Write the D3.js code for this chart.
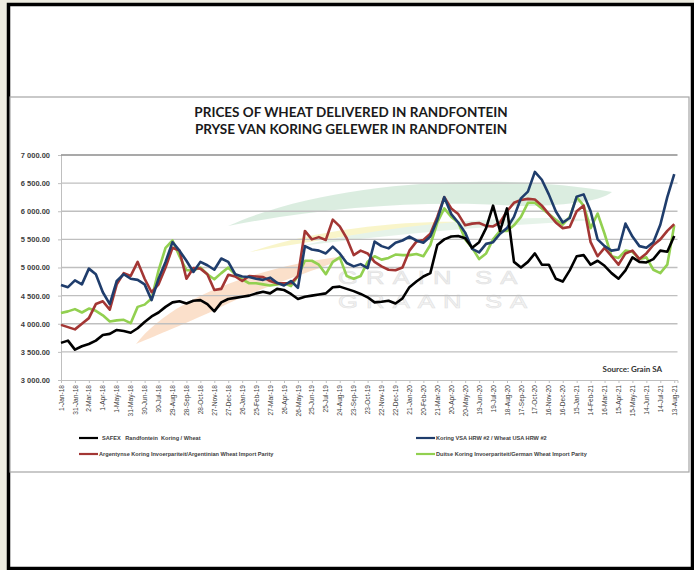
<!DOCTYPE html>
<html>
<head>
<meta charset="utf-8">
<script src="https://cdn.jsdelivr.net/npm/d3@7"></script>
<style>
	html, body { margin: 0; padding: 0; background: #eeece1; }
	svg { display: block; }
</style>
</head>
<body>
<div id="chart"></div>
<script>
// one point every 15 days from 1-Jan-18
const startDate = '2018-01-01';
const stepDays = 15;

const tickLabels = ['1-Jan-18', '31-Jan-18', '2-Mar-18', '1-Apr-18', '1-May-18', '31-May-18', '30-Jun-18', '30-Jul-18',
	'29-Aug-18', '28-Sep-18', '28-Oct-18', '27-Nov-18', '27-Dec-18', '26-Jan-19', '25-Feb-19', '27-Mar-19', '26-Apr-19',
	'26-May-19', '25-Jun-19', '25-Jul-19', '24-Aug-19', '23-Sep-19', '23-Oct-19', '22-Nov-19', '22-Dec-19', '21-Jan-20',
	'20-Feb-20', '21-Mar-20', '20-Apr-20', '20-May-20', '19-Jun-20', '19-Jul-20', '18-Aug-20', '17-Sep-20', '17-Oct-20',
	'16-Nov-20', '16-Dec-20', '15-Jan-21', '14-Feb-21', '16-Mar-21', '15-Apr-21', '15-May-21', '14-Jun-21', '14-Jul-21',
	'13-Aug-21'];

const yTicks = [3000, 3500, 4000, 4500, 5000, 5500, 6000, 6500, 7000];

const safex = [3660, 3700, 3540, 3600, 3640, 3700, 3800, 3820, 3890, 3870, 3840, 3920, 4030, 4130, 4200, 4300,
	4380, 4400, 4360, 4410, 4420, 4350, 4220, 4380, 4440, 4460, 4480, 4500, 4540, 4570, 4540, 4620,
	4600, 4530, 4440, 4480, 4500, 4520, 4540, 4650, 4660, 4620, 4580, 4530, 4470, 4380, 4390, 4410,
	4360, 4450, 4650, 4750, 4840, 4900, 5400, 5500, 5550, 5560, 5520, 5350, 5450, 5700, 6100, 5650,
	6050, 5100, 5000, 5100, 5250, 5050, 5050, 4800, 4750, 4950, 5200, 5220, 5050, 5120, 5030, 4900,
	4800, 4950, 5180, 5100, 5090, 5150, 5300, 5280, 5560];

const usaHrw = [4690, 4650, 4770, 4700, 4980, 4880, 4560, 4350, 4760, 4880, 4800, 4780, 4700, 4420, 4800, 5100,
	5450, 5300, 5120, 4920, 5100, 5040, 4960, 5160, 5100, 4880, 4840, 4830, 4800, 4780, 4820, 4730,
	4680, 4760, 4640, 5380, 5320, 5300, 5250, 5370, 5250, 5080, 5020, 5060, 4990, 5460, 5380, 5340,
	5440, 5480, 5550, 5480, 5440, 5550, 5850, 6250, 5950, 5800, 5620, 5330, 5270, 5420, 5450, 5600,
	5700, 5900, 6230, 6350, 6700, 6560, 6300, 6000, 5800, 5880, 6260, 6300, 6000, 5500, 5380, 5300,
	5320, 5780, 5550, 5380, 5350, 5450, 5760, 6250, 6660];

const argentina = [3980, 3940, 3900, 4000, 4100, 4350, 4400, 4250, 4700, 4900, 4850, 5100, 4800, 4560, 4700, 5000,
	5350, 5300, 4800, 4990, 4980, 4880, 4600, 4620, 4870, 4840, 4760, 4850, 4840, 4830, 4760, 4720,
	4720, 4720, 4850, 5650, 5500, 5540, 5490, 5850, 5730, 5520, 5220, 5300, 5250, 5100, 5020, 4960,
	4950, 5000, 5300, 5460, 5490, 5600, 5900, 6250, 6050, 5950, 5750, 5780, 5790, 5740, 5730, 5800,
	6000, 6150, 6200, 6220, 6210, 6100, 5950, 5800, 5700, 5720, 6000, 6100, 5450, 5200, 5350, 5200,
	5050, 5250, 5300, 5150, 5250, 5400, 5500, 5650, 5770];

const germany = [4190, 4220, 4260, 4200, 4270, 4230, 4150, 4040, 4060, 4070, 4010, 4300, 4340, 4450, 4950, 5350,
	5480, 5200, 4950, 4950, 5000, 4880, 4790, 4900, 5000, 4880, 4790, 4720, 4720, 4700, 4680, 4700,
	4720, 4670, 4850, 5120, 5120, 5050, 4880, 5100, 5180, 4850, 4800, 4850, 5100, 5200, 5140, 5170,
	5230, 5220, 5220, 5240, 5200, 5400, 5800, 6050, 5900, 5800, 5500, 5350, 5150, 5250, 5500, 5650,
	5650, 5750, 5900, 6150, 6150, 6050, 5950, 5850, 5760, 5900, 6250, 6100, 5700, 5960, 5600, 5200,
	5170, 5300, 5280, 5150, 5180, 4960, 4900, 5050, 5750];

const seriesNames = ['SAFEX   Randfontein  Koring / Wheat', 'Koring VSA HRW #2 / Wheat USA HRW #2',
	'Argentynse Koring Invoerpariteit/Argentinian Wheat Import Parity', 'Duitse Koring Invoerpariteit/German Wheat Import Parity'];
const seriesColors = ['#000000', '#1f3d6c', '#a33634', '#92d050'];

const titleLines = ['PRICES OF WHEAT DELIVERED IN RANDFONTEIN', 'PRYSE VAN KORING GELEWER IN RANDFONTEIN'];

const W = 694, H = 570;
const plot = { left: 61, right: 677.5, top: 155, bottom: 380 };

const parseTick = d3.utcParse('%d-%b-%y');
const start = d3.utcParse('%Y-%m-%d')(startDate);

const drawFrame = function (svg) {
	svg.append('rect')
		.attr('width', W).attr('height', H)
		.attr('fill', '#eeece1');
	svg.append('rect')
		.attr('x', 8.5).attr('y', 4.5)
		.attr('width', 684).attr('height', 564)
		.attr('fill', '#fff')
		.attr('stroke', '#000')
		.attr('stroke-width', 3.5);
	svg.append('rect')
		.attr('x', 10).attr('y', 97)
		.attr('width', 679).attr('height', 375)
		.attr('fill', '#fff')
		.attr('stroke', '#a6a6a6')
		.attr('stroke-width', 1.2);
}

// faint Grain SA logo behind the lines
const drawWatermark = function (svg) {
	let g = svg.append('g').attr('opacity', 0.6);
	g.append('path')
		.attr('d', 'M228,226 C330,180 500,172 612,192 C600,202 560,206 520,206 C430,200 330,206 228,226 Z')
		.attr('fill', '#c4e2cd');
	g.append('path')
		.attr('d', 'M250,252 C320,228 410,220 470,222 C400,228 330,238 250,252 Z')
		.attr('fill', '#f6f0a8');
	g.append('path')
		.attr('d', 'M300,246 C400,222 520,214 600,220 C520,224 410,232 300,246 Z')
		.attr('fill', '#d6ecdc');
	g.append('path')
		.attr('d', 'M136,344 C170,300 250,268 345,256 C345,262 270,282 215,310 C180,326 150,338 136,344 Z')
		.attr('fill', '#f9cca8');
	let words = ['GRAIN SA', 'GRAAN SA'];
	g.selectAll('text.wm')
		.data(words)
		.enter().append('text')
		.attr('class', 'wm')
		.attr('transform', (d, i) => `translate(338,${284 + i * 24}) scale(1.35,1)`)
		.attr('font-family', 'Liberation Sans, Arial, sans-serif')
		.attr('font-size', 19)
		.attr('letter-spacing', 6)
		.attr('fill', (d, i) => i ? '#ececec' : '#e4e4e4')
		.attr('stroke', '#cfcfcf')
		.attr('stroke-width', 0.6)
		.text(d => d);
}

const drawAxes = function (svg, xScale, yScale, tickDates) {
	const locale = d3.formatLocale({ decimal: '.', thousands: ' ', grouping: [3], currency: ['', ''] });
	const fmt = locale.format(',.2f');

	let yAxis = svg.append('g')
		.attr('class', 'axisY')
		.attr('transform', `translate(${plot.left},0)`)
		.call(d3.axisLeft(yScale).tickValues(yTicks).tickSize(3).tickFormat(fmt));
	yAxis.select('.domain').attr('stroke', '#bfbfbf');
	yAxis.selectAll('.tick line').attr('stroke', '#bfbfbf');
	yAxis.selectAll('.tick text')
		.attr('x', -11)
		.attr('fill', '#404040')
		.style('font-family', 'Liberation Sans, Arial, sans-serif')
		.style('font-size', '7.5px')
		.style('font-weight', 'bold');

	// grid lines
	svg.append('g').selectAll('line')
		.data(yTicks.filter(d => d > 3000))
		.enter().append('line')
		.attr('x1', plot.left).attr('x2', plot.right)
		.attr('y1', d => yScale(d)).attr('y2', d => yScale(d))
		.attr('stroke', d => d === 7000 ? '#8c8c8c' : '#bfbfbf')
		.attr('stroke-width', 1.3);

	let xAxis = svg.append('g')
		.attr('class', 'axisX')
		.attr('transform', `translate(0,${plot.bottom})`)
		.call(d3.axisBottom(xScale).tickValues(tickDates).tickSize(3).tickFormat((d, i) => tickLabels[i]));
	xAxis.select('.domain').attr('stroke', '#bfbfbf');
	xAxis.selectAll('.tick line').attr('stroke', '#bfbfbf');
	xAxis.selectAll('.tick text')
		.attr('transform', 'rotate(-90)')
		.attr('x', -5)
		.attr('y', 0)
		.attr('dy', '0.32em')
		.attr('text-anchor', 'end')
		.attr('fill', '#404040')
		.style('font-family', 'Liberation Sans, Arial, sans-serif')
		.style('font-size', '6.6px');
}

const drawLines = function (svg, xScale, yScale, dates) {
	let line = d3.line()
		.x((d, i) => xScale(dates[i]))
		.y(d => yScale(d));
	// green first, black last on top
	let order = [3, 2, 1, 0];
	let all = [safex, usaHrw, argentina, germany];
	svg.append('g').selectAll('path')
		.data(order)
		.enter().append('path')
		.attr('d', k => line(all[k]))
		.attr('fill', 'none')
		.attr('stroke', k => seriesColors[k])
		.attr('stroke-width', 2.6)
		.attr('stroke-linejoin', 'round');
}

const drawLegend = function (svg) {
	let pos = [[79, 438], [416, 438], [79, 454], [416, 454]];
	let legend = svg.append('g').selectAll('g')
		.data(seriesNames)
		.enter().append('g')
		.attr('transform', (d, i) => `translate(${pos[i][0]},${pos[i][1]})`);
	legend.append('line')
		.attr('x1', 0).attr('x2', 19)
		.attr('stroke', (d, i) => seriesColors[i])
		.attr('stroke-width', 2.2);
	legend.append('text')
		.attr('x', (d, i) => i === 0 ? 23 : 20)
		.attr('dy', '0.35em')
		.attr('fill', '#404040')
		.style('font-family', 'Liberation Sans, Arial, sans-serif')
		.style('font-size', '5.6px')
		.style('font-weight', 'bold')
		.style('white-space', 'pre')
		.text(d => d);
}

const drawChart = function (element) {
	let svg = d3.select(element).append('svg')
		.attr('width', W)
		.attr('height', H);

	let dates = safex.map((d, i) => d3.utcDay.offset(start, i * stepDays));
	let tickDates = tickLabels.map(parseTick);

	let xScale = d3.scaleUtc()
		.domain([start, d3.utcDay.offset(start, 1327)])
		.range([plot.left, plot.right]);
	let yScale = d3.scaleLinear()
		.domain([3000, 7000])
		.range([plot.bottom, plot.top]);

	drawFrame(svg);

	svg.append('g').selectAll('text')
		.data(titleLines)
		.enter().append('text')
		.attr('x', 351)
		.attr('y', (d, i) => 117 + i * 16.5)
		.attr('text-anchor', 'middle')
		.attr('fill', '#1a1a1a')
		.style('font-family', 'Lato, sans-serif')
		.style('font-size', '13.5px')
		.style('font-weight', 'bold')
		.text(d => d);

	drawWatermark(svg);
	drawAxes(svg, xScale, yScale, tickDates);
	drawLines(svg, xScale, yScale, dates);

	svg.append('text')
		.attr('x', 662).attr('y', 372)
		.attr('text-anchor', 'end')
		.attr('fill', '#333')
		.style('font-family', 'Lato, sans-serif')
		.style('font-size', '8px')
		.style('font-weight', 'bold')
		.text('Source: Grain SA');

	drawLegend(svg);
}

drawChart('#chart');
</script>
</body>
</html>
